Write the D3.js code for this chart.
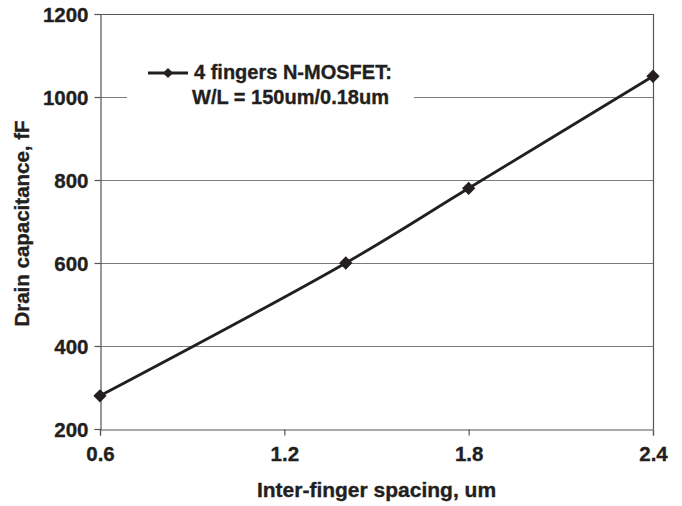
<!DOCTYPE html>
<html>
<head>
<meta charset="utf-8">
<script src="https://cdn.jsdelivr.net/npm/d3@7"></script>
<style>
  html, body { margin: 0; padding: 0; background: #fff; }
  svg { display: block; font-family: "Liberation Sans", Arial, sans-serif; }
  svg text { stroke: #231f20; stroke-width: 0.35px; }
</style>
</head>
<body>
<svg id="chart" width="682" height="506"></svg>
<script>
// Drain capacitance vs. inter-finger spacing
const spacing = [0.6, 1.4, 1.8, 2.4];
const capacitance = [280, 600, 780, 1050];
const xTicks = [0.6, 1.2, 1.8, 2.4];
const yTicks = [200, 400, 600, 800, 1000, 1200];
const legendLines = ["4 fingers N-MOSFET:", "W/L = 150um/0.18um"];

const svg = d3.select("#chart");
const margin = { left: 100, top: 14, right: 29, bottom: 77 };
const W = 682, H = 506;
const x0 = margin.left, x1 = W - margin.right, y0 = margin.top, y1 = H - margin.bottom;

const x = d3.scaleLinear().domain([0.6, 2.4]).range([x0, x1]);
const y = d3.scaleLinear().domain([200, 1200]).range([y1, y0]);
const ink = "#231f20";

// horizontal gridlines
svg.append("g").selectAll("line")
  .data(yTicks.filter(v => v > 200 && v < 1200))
  .join("line")
  .attr("x1", x0).attr("x2", x1)
  .attr("y1", d => y(d) + 0.5).attr("y2", d => y(d) + 0.5)
  .attr("stroke", "#7a7a7a").attr("stroke-width", 1.2);

// plot frame (top and right edges)
svg.append("path")
  .attr("d", `M${x0},${y0 + 0.5}H${x1 + 0.5}V${y1}`)
  .attr("fill", "none").attr("stroke", "#555").attr("stroke-width", 1.2);

// axes
const xAxis = svg.append("g")
  .attr("transform", `translate(0,${y1 + 0.5})`)
  .call(d3.axisBottom(x).tickValues(xTicks).tickFormat(d3.format(".1f")).tickSize(6).tickPadding(11));
const yAxis = svg.append("g")
  .attr("transform", `translate(${x0 + 0.5},0)`)
  .call(d3.axisLeft(y).tickValues(yTicks).tickFormat(d3.format("d")).tickSize(6).tickPadding(6));
[xAxis, yAxis].forEach(g => {
  g.select(".domain").attr("stroke", "#555").attr("stroke-width", 1.2);
  g.selectAll(".tick line").attr("stroke", "#555").attr("stroke-width", 1.2);
  g.selectAll("text")
    .attr("fill", ink)
    .attr("font-family", "'Liberation Sans', Arial, sans-serif")
    .attr("font-weight", "bold")
    .attr("font-size", 20.5);
});
yAxis.selectAll("text").attr("dy", "0.36em");

// axis titles
svg.append("text")
  .attr("x", (x0 + x1) / 2).attr("y", 497)
  .attr("text-anchor", "middle")
  .attr("font-weight", "bold").attr("font-size", 21).attr("fill", ink)
  .text("Inter-finger spacing, um");
svg.append("text")
  .attr("transform", `translate(29,${(y0 + y1) / 2 + 2}) rotate(-90)`)
  .attr("text-anchor", "middle")
  .attr("font-weight", "bold").attr("font-size", 20.5).attr("fill", ink)
  .text("Drain capacitance, fF");

// series line (smoothed) and diamond markers
const pts = spacing.map((s, i) => [s, capacitance[i]]);
const line = d3.line().x(d => x(d[0])).y(d => y(d[1])).curve(d3.curveCatmullRom.alpha(0.5));
svg.append("path")
  .datum(pts)
  .attr("d", line)
  .attr("fill", "none").attr("stroke", ink).attr("stroke-width", 2.8);

svg.append("g").selectAll("path")
  .data(pts)
  .join("path")
  .attr("transform", d => `translate(${x(d[0])},${y(d[1])}) rotate(45)`)
  .attr("d", d3.symbol().type(d3.symbolSquare).size(88))
  .attr("fill", ink);

// legend
const lg = svg.append("g");
lg.append("rect")
  .attr("x", 127).attr("y", 52).attr("width", 287).attr("height", 60)
  .attr("fill", "#fff");
lg.append("line")
  .attr("x1", 148).attr("x2", 188).attr("y1", 73).attr("y2", 73)
  .attr("stroke", ink).attr("stroke-width", 2.8);
lg.append("path")
  .attr("transform", "translate(168,73) rotate(45)")
  .attr("d", d3.symbol().type(d3.symbolSquare).size(52))
  .attr("fill", ink);
lg.selectAll("text")
  .data(legendLines)
  .join("text")
  .attr("x", (d, i) => i === 0 ? 194 : 192)
  .attr("y", (d, i) => 79 + i * 25)
  .attr("font-weight", "bold").attr("font-size", 20).attr("fill", ink)
  .text(d => d);
</script>
</body>
</html>
